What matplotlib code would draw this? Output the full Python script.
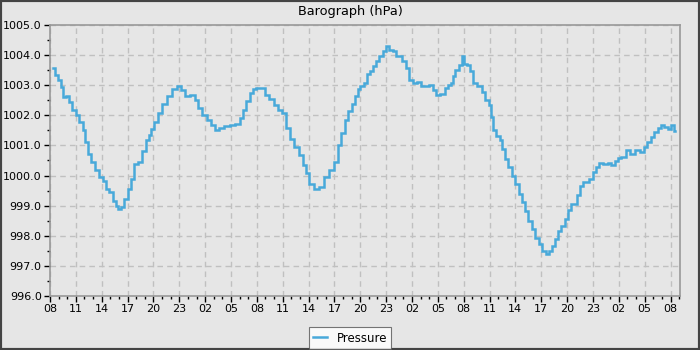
import matplotlib
matplotlib.use("Agg")
import matplotlib.pyplot as plt
from matplotlib.ticker import MultipleLocator, FixedLocator
from matplotlib.patches import Rectangle

# Hours since 08:00 of the first day
hours = [0.4, 0.7, 1.1, 1.4, 1.6, 2.0, 2.4, 2.8, 3.2, 3.6, 4.0, 4.2, 4.6, 5.0, 5.5,
         5.9, 6.3, 6.7, 7.1, 7.5, 7.8, 8.0, 8.4, 8.8, 9.2, 9.6, 10.0, 10.4, 10.9, 11.3,
         11.6, 11.9, 12.3, 12.7, 13.3, 13.9, 14.5, 15.0, 15.4, 16.0, 16.6, 17.0, 17.4,
         17.9, 18.5, 18.9, 19.3, 19.9, 20.5, 21.2, 21.8, 22.2, 22.6, 23.0, 23.4, 23.7,
         24.1, 24.7, 25.1, 25.7, 26.3, 26.6, 27.2, 27.6, 28.0, 28.6, 29.2, 29.5, 29.9,
         30.3, 30.9, 31.5, 32.1, 32.6, 33.2, 33.6, 34.0, 34.4, 34.8, 35.2, 35.6, 35.9,
         36.1, 36.7, 36.9, 37.3, 37.7, 38.0, 38.4, 38.8, 39.1, 39.6, 40.0, 40.4, 40.7,
         41.1, 41.5, 41.9, 42.3, 42.9, 43.3, 43.8, 44.2, 44.6, 45.0, 45.6, 46.0, 46.3,
         46.7, 46.9, 47.2, 47.6, 47.9, 48.2, 48.5, 48.9, 49.3, 49.9, 50.3, 50.7, 51.1,
         51.3, 51.6, 52.0, 52.4, 52.6, 53.0, 53.4, 53.8, 54.2, 54.6, 54.9, 55.3, 55.7,
         56.1, 56.5, 56.9, 57.3, 57.7, 58.0, 58.4, 58.8, 59.2, 59.5, 59.9, 60.2, 60.6,
         61.0, 61.4, 61.6, 62.2, 62.8, 63.1, 63.5, 63.9, 64.5, 64.9, 65.3, 65.7, 66.0,
         66.6, 67.0, 67.6, 68.2, 68.7, 69.1, 69.5, 69.9, 70.3, 70.7, 71.1, 71.5, 71.8,
         72.2, 72.5]

pressure = [1003.56, 1003.33, 1003.17, 1002.94, 1002.60, 1002.64, 1002.44, 1002.17,
            1002.00, 1001.78, 1001.50, 1001.11, 1000.72, 1000.44, 1000.17, 999.94,
            999.83, 999.56, 999.44, 999.17, 999.00, 998.89, 998.94, 999.22, 999.56,
            999.89, 1000.39, 1000.44, 1000.83, 1001.17, 1001.35, 1001.55, 1001.78,
            1002.09, 1002.38, 1002.64, 1002.87, 1002.98, 1002.84, 1002.64, 1002.68,
            1002.51, 1002.23, 1002.01, 1001.84, 1001.68, 1001.51, 1001.57, 1001.64,
            1001.67, 1001.71, 1001.90, 1002.18, 1002.46, 1002.73, 1002.88, 1002.92,
            1002.90, 1002.68, 1002.53, 1002.34, 1002.18, 1002.07, 1001.57, 1001.23,
            1000.96, 1000.68, 1000.34, 1000.07, 999.73, 999.57, 999.62, 999.96,
            1000.18, 1000.46, 1001.01, 1001.40, 1001.84, 1002.16, 1002.38, 1002.64,
            1002.87, 1002.96, 1003.07, 1003.38, 1003.46, 1003.64, 1003.79, 1003.98,
            1004.12, 1004.29, 1004.18, 1004.12, 1003.96, 1003.98, 1003.79, 1003.57,
            1003.18, 1003.07, 1003.12, 1002.96, 1002.96, 1003.01, 1002.84, 1002.68,
            1002.71, 1002.90, 1003.01, 1003.07, 1003.29, 1003.52, 1003.67, 1003.97,
            1003.72, 1003.67, 1003.48, 1003.06, 1002.97, 1002.78, 1002.50, 1002.33,
            1001.94, 1001.50, 1001.33, 1001.17, 1000.89, 1000.56, 1000.28, 1000.00,
            999.72, 999.39, 999.11, 998.83, 998.50, 998.22, 997.94, 997.72, 997.50,
            997.39, 997.50, 997.67, 997.89, 998.17, 998.34, 998.57, 998.84, 999.07,
            999.07, 999.34, 999.64, 999.79, 999.90, 1000.12, 1000.29, 1000.42,
            1000.37, 1000.42, 1000.34, 1000.48, 1000.57, 1000.60, 1000.84, 1000.73,
            1000.84, 1000.79, 1000.96, 1001.12, 1001.29, 1001.46, 1001.57, 1001.68,
            1001.62, 1001.53, 1001.68, 1001.49]

tick_hours = list(range(0, 73, 3))
tick_labels = ["08", "11", "14", "17", "20", "23", "02", "05",
               "08", "11", "14", "17", "20", "23", "02", "05",
               "08", "11", "14", "17", "20", "23", "02", "05", "08"]

title = "Barograph (hPa)"
series_name = "Pressure"

bg = "#e6e6e6"
line_color = "#48a9da"

fig = plt.figure(figsize=(7, 3.5), dpi=100, facecolor=bg)
ax = fig.add_axes([50 / 700, 1 - 296 / 350, 630 / 700, 271 / 350])
ax.set_facecolor(bg)

ax.plot(hours, pressure, color=line_color, linewidth=1.8,
        drawstyle="steps-mid", label=series_name, solid_joinstyle="miter")

ax.set_xlim(0, 73.1)
ax.set_ylim(996, 1005)
ax.xaxis.set_major_locator(FixedLocator(tick_hours))
ax.set_xticklabels(tick_labels)
ax.xaxis.set_minor_locator(MultipleLocator(1))
ax.yaxis.set_major_locator(MultipleLocator(1))
ax.yaxis.set_minor_locator(MultipleLocator(0.5))
ax.yaxis.set_major_formatter(matplotlib.ticker.FormatStrFormatter("%.1f"))

ax.grid(True, which="major", color="#c0c0c0", linestyle=(0, (4, 3)), linewidth=1)
ax.tick_params(which="major", length=4, width=1, color="black", labelsize=8,
               pad=2, labelcolor="black")
ax.tick_params(which="minor", length=2.5, width=1, color="black")
for s in ax.spines.values():
    s.set_color("#999999")
    s.set_linewidth(1.2)

fig.text(0.5, 1 - 11 / 350, title, ha="center", va="center", fontsize=9.3)

leg = fig.legend(loc="center", bbox_to_anchor=(350 / 700, 1 - 338 / 350),
                 fontsize=8.5, frameon=True, fancybox=False, handlelength=1.2,
                 handletextpad=0.8, borderpad=0.35, borderaxespad=0)
leg.get_frame().set_facecolor("white")
leg.get_frame().set_edgecolor("#555555")
leg.get_frame().set_linewidth(0.8)

fig.patches.append(Rectangle((0, 0), 1, 1, transform=fig.transFigure,
                             fill=False, edgecolor="#444444", linewidth=3))

fig.savefig("out.png", dpi=100, facecolor=bg)
